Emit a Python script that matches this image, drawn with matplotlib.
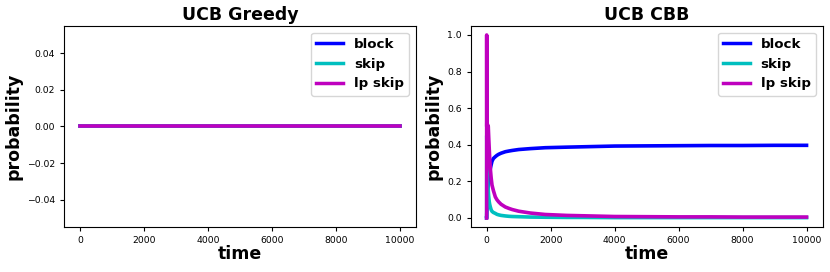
import matplotlib
matplotlib.use('Agg')
import matplotlib.pyplot as plt

# Zeitpunkte und Wahrscheinlichkeiten
zeit = [0, 1, 3, 6, 10, 15, 20, 30, 40, 50,
        62, 80, 94, 115, 140, 167, 210, 271, 320, 375,
        450, 583, 700, 800, 1000, 1365, 1833, 2500, 3000, 4000,
        5000, 6000, 7000, 8000, 9000, 10000]

greedy_block = [0.0] * len(zeit)
greedy_skip = [0.0] * len(zeit)
greedy_lp_skip = [0.0] * len(zeit)

cbb_block = [0.0, 0.0, 0.02, 0.04, 0.06, 0.08, 0.1, 0.13, 0.15, 0.175,
             0.2, 0.23, 0.25, 0.27, 0.29, 0.31, 0.325, 0.335, 0.342, 0.348,
             0.354, 0.362, 0.366, 0.369, 0.374, 0.379, 0.384, 0.387, 0.389, 0.393,
             0.394, 0.395, 0.396, 0.396, 0.397, 0.397]
cbb_skip = [0.0, 0.0, 0.45, 0.4, 0.35, 0.3, 0.27, 0.22, 0.18, 0.15,
            0.12, 0.09, 0.075, 0.06, 0.045, 0.036, 0.03, 0.025, 0.02, 0.017,
            0.014, 0.011, 0.009, 0.008, 0.007, 0.005, 0.004, 0.003, 0.003, 0.002,
            0.002, 0.002, 0.002, 0.002, 0.002, 0.002]
cbb_lp_skip = [0.0, 1.0, 0.5, 0.55, 0.46, 0.52, 0.47, 0.51, 0.47, 0.5,
               0.45, 0.38, 0.33, 0.27, 0.22, 0.18, 0.15, 0.115, 0.1, 0.088,
               0.075, 0.06, 0.052, 0.046, 0.037, 0.027, 0.019, 0.014, 0.012, 0.008,
               0.007, 0.006, 0.006, 0.005, 0.005, 0.005]

farben = ['b', 'c', 'm']
namen = ['block', 'skip', 'lp skip']

fig, axes = plt.subplots(1, 2, figsize=(8.3, 2.72), dpi=100)
fig.subplots_adjust(left=0.077, right=0.991, top=0.905, bottom=0.165, wspace=0.156)

daten = [
    ('UCB Greedy', [greedy_block, greedy_skip, greedy_lp_skip]),
    ('UCB CBB', [cbb_block, cbb_skip, cbb_lp_skip]),
]

for ax, (titel, reihen) in zip(axes, daten):
    for werte, farbe, name in zip(reihen, farben, namen):
        ax.plot(zeit, werte, color=farbe, linewidth=2.6, label=name)
    ax.set_title(titel, fontsize=12.5, fontweight='bold', pad=4)
    ax.set_xlabel('time', fontsize=12.5, fontweight='bold', labelpad=0)
    ax.set_ylabel('probability', fontsize=12.5, fontweight='bold', labelpad=3.5)
    ax.tick_params(labelsize=6.7, length=2.8)
    leg = ax.legend(loc='upper right', prop={'weight': 'bold', 'size': 9.6})
    for linie in leg.get_lines():
        linie.set_linewidth(2.5)

plt.savefig('out.png', dpi=100)
